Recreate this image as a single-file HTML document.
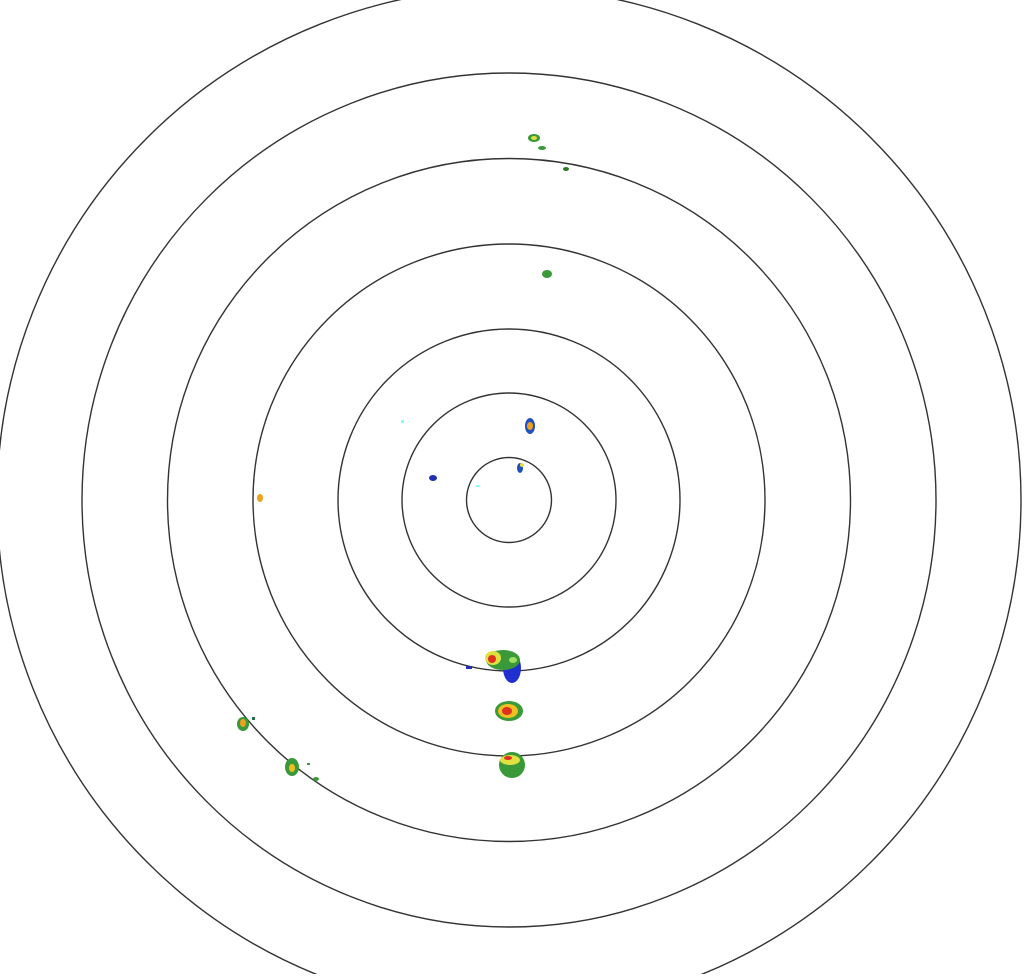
<!DOCTYPE html>
<html><head><meta charset="utf-8"><style>html,body{margin:0;padding:0;background:#fff;overflow:hidden}</style></head>
<body>
<svg width="1029" height="974" viewBox="0 0 1029 974" xmlns="http://www.w3.org/2000/svg">
<rect width="1029" height="974" fill="#fff"/>
<g fill="none" stroke="#333" stroke-width="1.4">
<circle cx="509" cy="500" r="42.5"/>
<circle cx="509" cy="500" r="107"/>
<circle cx="509" cy="500" r="171"/>
<circle cx="509" cy="500" r="256"/>
<circle cx="509" cy="500" r="341.5"/>
<circle cx="509" cy="500" r="427"/>
<circle cx="509" cy="500" r="512"/>
</g>
<!-- echoes -->
<g>
<ellipse cx="534" cy="138" rx="6" ry="4" fill="#3a9a3a"/><ellipse cx="534" cy="138" rx="3" ry="2" fill="#e0e040"/>
<ellipse cx="542" cy="148" rx="4" ry="2" fill="#3a9a3a"/>
<ellipse cx="566" cy="169" rx="3" ry="2" fill="#2a7a2a"/>
<ellipse cx="547" cy="274" rx="5" ry="4" fill="#3a9a3a"/>
<ellipse cx="530" cy="426" rx="5" ry="8" fill="#2050c0"/><ellipse cx="530" cy="426" rx="3" ry="4" fill="#f0a020"/>
<ellipse cx="520" cy="468" rx="3" ry="5" fill="#2050c0"/><ellipse cx="522" cy="465" rx="2" ry="2" fill="#e0e040"/>
<ellipse cx="433" cy="478" rx="4" ry="3" fill="#2030b0"/>
<ellipse cx="260" cy="498" rx="3" ry="4" fill="#f0a020"/>
<rect x="401" y="420" width="3" height="3" fill="#80ffff"/>
<rect x="476" y="485" width="3" height="2" fill="#80ffff"/>
<!-- south cluster -->
<ellipse cx="512" cy="668" rx="9" ry="15" fill="#2030d0"/>
<ellipse cx="503" cy="660" rx="17" ry="10" fill="#3a9a3a"/>
<ellipse cx="493" cy="658" rx="8" ry="7" fill="#e0e040"/><ellipse cx="492" cy="659" rx="4" ry="4" fill="#e03020"/>
<ellipse cx="513" cy="660" rx="4" ry="3" fill="#a0e060"/>
<rect x="466" y="666" width="6" height="3" fill="#2030b0"/>
<ellipse cx="509" cy="711" rx="14" ry="10" fill="#3a9a3a"/>
<ellipse cx="508" cy="711" rx="10" ry="7" fill="#f0c020"/>
<ellipse cx="507" cy="711" rx="5" ry="4" fill="#e03020"/>
<ellipse cx="512" cy="765" rx="13" ry="13" fill="#3a9a3a"/>
<ellipse cx="510" cy="760" rx="10" ry="5" fill="#e0e040"/><ellipse cx="508" cy="758" rx="4" ry="2" fill="#e03020"/>
<ellipse cx="243" cy="724" rx="6" ry="7" fill="#3a9a3a"/><ellipse cx="243" cy="723" rx="3" ry="4" fill="#f0a020"/>
<rect x="252" y="717" width="3" height="3" fill="#2a6a4a"/>
<ellipse cx="292" cy="767" rx="7" ry="9" fill="#3a9a3a"/><ellipse cx="292" cy="768" rx="3" ry="4" fill="#f0c020"/>
<rect x="307" y="763" width="3" height="2" fill="#3a9a3a"/>
<ellipse cx="316" cy="779" rx="3" ry="2" fill="#3a9a3a"/>
</g>
</svg>
</body></html>
